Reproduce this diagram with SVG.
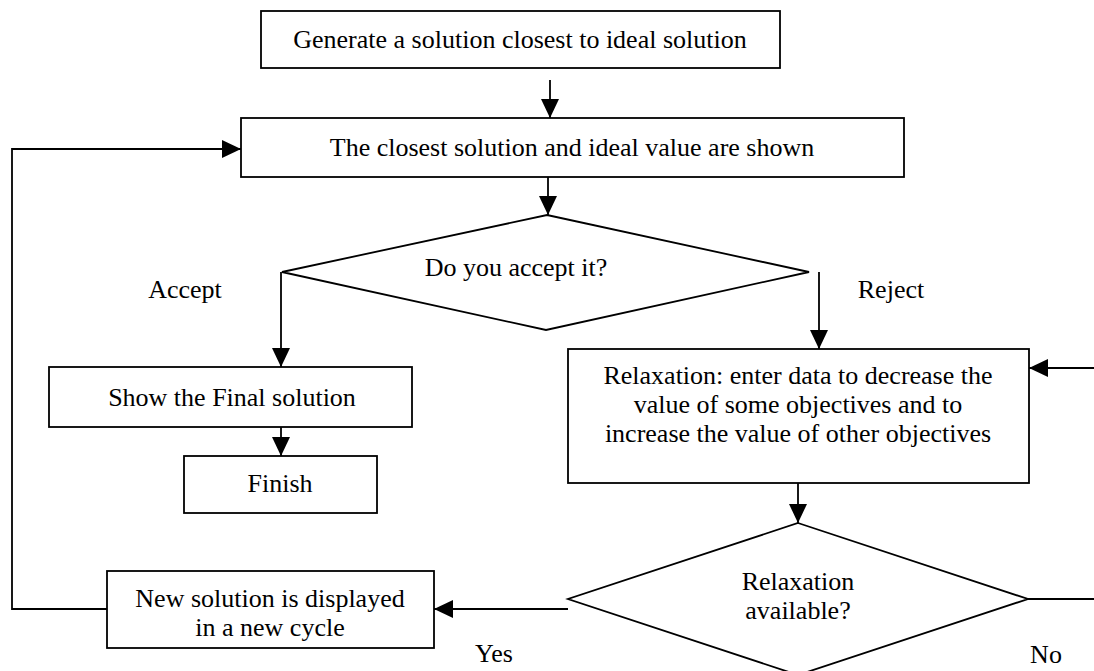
<svg xmlns="http://www.w3.org/2000/svg" width="1094" height="671" viewBox="0 0 1094 671">
<style>
.b{fill:#fff;stroke:#000;stroke-width:1.8}
.c{fill:none;stroke:#000;stroke-width:1.8}
text{font-family:"Liberation Serif","Times New Roman",serif;font-size:26px;fill:#000;text-anchor:middle}
</style>
<defs>
<marker id="ah" markerWidth="19" markerHeight="18" refX="19" refY="9" orient="auto" markerUnits="userSpaceOnUse">
<path d="M0,0 L19,9 L0,18 Z" fill="#000"/>
</marker>
</defs>
<rect width="1094" height="671" fill="#fff"/>
<g id="connectors">
<path class="c" d="M550,80 V118" marker-end="url(#ah)"/>
<path class="c" d="M107,609 H12 V149 H241" marker-end="url(#ah)"/>
<path class="c" d="M548,177 V215" marker-end="url(#ah)"/>
<path class="c" d="M281,272 V367" marker-end="url(#ah)"/>
<path class="c" d="M281,427 V456" marker-end="url(#ah)"/>
<path class="c" d="M819,272 V349" marker-end="url(#ah)"/>
<path class="c" d="M1094,368 H1029" marker-end="url(#ah)"/>
<path class="c" d="M798,483 V523" marker-end="url(#ah)"/>
<path class="c" d="M1028,599 H1094"/>
<path class="c" d="M568,609 H434" marker-end="url(#ah)"/>
</g>
<g id="n1"><rect class="b" x="261" y="11" width="519" height="57"/><text x="520" y="48">Generate a solution closest to ideal solution</text></g>
<g id="n2"><rect class="b" x="241" y="118" width="663" height="59"/><text x="572" y="156">The closest solution and ideal value are shown</text></g>
<g id="n3"><path class="b" d="M547,215 L809,272 L546,330 L282,272 Z"/><text x="516" y="276">Do you accept it?</text></g>
<g id="n4"><rect class="b" x="49" y="367" width="363" height="60"/><text x="232" y="406">Show the Final solution</text></g>
<g id="n5"><rect class="b" x="184" y="456" width="193" height="57"/><text x="280" y="492">Finish</text></g>
<g id="n6"><rect class="b" x="568" y="349" width="461" height="134"/><text x="798" y="384">Relaxation: enter data to decrease the</text><text x="798" y="413">value of some objectives and to</text><text x="798" y="442">increase the value of other objectives</text></g>
<g id="n7"><path class="b" d="M798,523 L1028,599 L798,675 L568,599 Z"/><text x="798" y="590">Relaxation</text><text x="798" y="619">available?</text></g>
<g id="n8"><rect class="b" x="107" y="571" width="327" height="77"/><text x="270" y="607">New solution is displayed</text><text x="270" y="636">in a new cycle</text></g>
<g id="labels"><text x="185" y="298">Accept</text><text x="891" y="298">Reject</text><text x="494" y="662">Yes</text><text x="1046" y="663">No</text></g>
</svg>
